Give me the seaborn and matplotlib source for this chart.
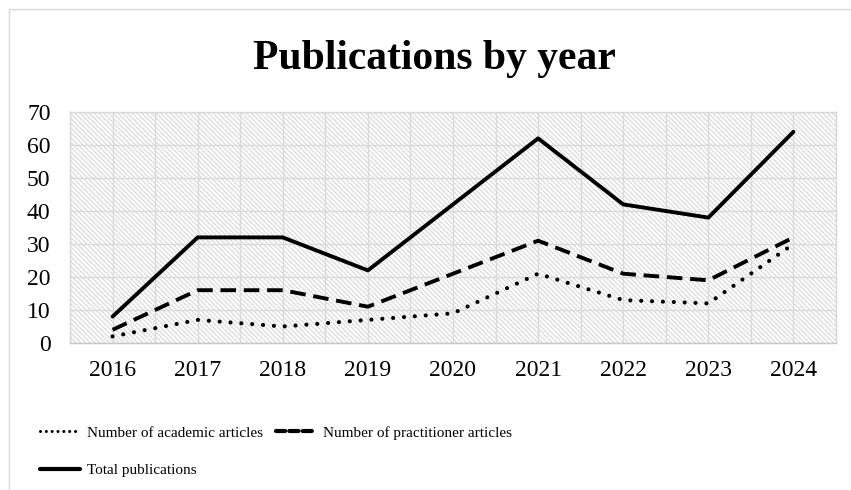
import numpy as np
import pandas as pd
import matplotlib
matplotlib.use("Agg")
import matplotlib.pyplot as plt
import seaborn as sns
from matplotlib.patches import Rectangle
from matplotlib.lines import Line2D

# ---- data ----
years = ["2016", "2017", "2018", "2019", "2020", "2021", "2022", "2023", "2024"]
academic = [2, 7, 5, 7, 9, 21, 13, 12, 30]
practitioner = [4, 16, 16, 11, 21, 31, 21, 19, 32]
total = [8, 32, 32, 22, 42, 62, 42, 38, 64]
series_names = ["Number of academic articles", "Number of practitioner articles", "Total publications"]
title = "Publications by year"
y_ticks = [0, 10, 20, 30, 40, 50, 60, 70]

df = pd.DataFrame({
    "pos": np.arange(len(years)),
    "academic": academic,
    "practitioner": practitioner,
    "total": total,
})

sns.set_theme(style="white")
plt.rcParams["font.family"] = ["Liberation Serif", "DejaVu Serif"]
plt.rcParams["text.color"] = "black"
plt.rcParams["hatch.linewidth"] = 1.0
plt.rcParams["hatch.color"] = "#dedede"

W, H = 851, 490
fig = plt.figure(figsize=(W / 100, H / 100), dpi=100)

# outer chart frame (left & top visible)
fig.patches.append(Rectangle((9 / W, -0.2), 1.2, (H - 9) / H + 0.2, transform=fig.transFigure,
                             fill=False, edgecolor="#d9d9d9", lw=1.0))

ax = fig.add_axes([70 / W, (H - 343) / H, (836 - 70) / W, (343 - 112) / H])

# hatched plot-area background
ax.add_patch(Rectangle((0, 0), 1, 1, transform=ax.transAxes, facecolor="white",
                       edgecolor="#dedede", hatch="\\" * 7, lw=0, zorder=0))

sns.lineplot(data=df, x="pos", y="academic", ax=ax, color="black", lw=3.0,
             linestyle=(0, (0.01, 2.6)), dash_capstyle="round", label=series_names[0])
sns.lineplot(data=df, x="pos", y="practitioner", ax=ax, color="black", lw=2.8,
             linestyle=(0, (4.0, 2.0)), label=series_names[1])
sns.lineplot(data=df, x="pos", y="total", ax=ax, color="black", lw=2.8,
             linestyle="-", label=series_names[2])

ax.set_xlim(-0.5, len(years) - 0.5)
ax.set_ylim(0, 70)
ax.set_yticks(y_ticks)
ax.set_xticks(np.arange(len(years)))
ax.set_xticklabels(years)
ax.set_xticks(np.arange(-0.5, len(years), 1), minor=True)
ax.set_xlabel("")
ax.set_ylabel("")

ax.set_axisbelow(True)
ax.grid(True, axis="y", which="major", color="#dadada", lw=1.0)
ax.grid(True, axis="x", which="both", color="#dadada", lw=1.0)
ax.tick_params(axis="both", which="both", length=0, labelsize=17, colors="black")
ax.tick_params(axis="y", pad=14)
ax.tick_params(axis="x", pad=12)
for s in ax.spines.values():
    s.set_color("#d9d9d9")
    s.set_linewidth(1.0)
ax.spines["bottom"].set_color("#c8c8c8")

fig.text(434 / W, 1 - 69 / H, title, ha="center", va="baseline", fontsize=30,
         fontweight="bold", color="black")

ax.get_legend().remove()
h_acad = Line2D([], [], color="black", lw=2.2, linestyle=(0, (0.01, 1.9)), dash_capstyle="round")
h_prac = Line2D([], [], color="black", lw=3.0, linestyle=(0, (2.2, 1.0)), dash_capstyle="round")
h_tot = Line2D([], [], color="black", lw=3.0, linestyle="-")
fig.legend([h_acad, h_tot, h_prac], [series_names[0], series_names[2], series_names[1]], ncol=2,
           loc="upper left", bbox_to_anchor=(40 / W, 1 - 426 / H), frameon=False,
           borderaxespad=0, borderpad=0, fontsize=11, handlelength=2.6,
           handletextpad=0.45, columnspacing=0.9, labelspacing=1.55)

fig.savefig("out.png", dpi=100)
